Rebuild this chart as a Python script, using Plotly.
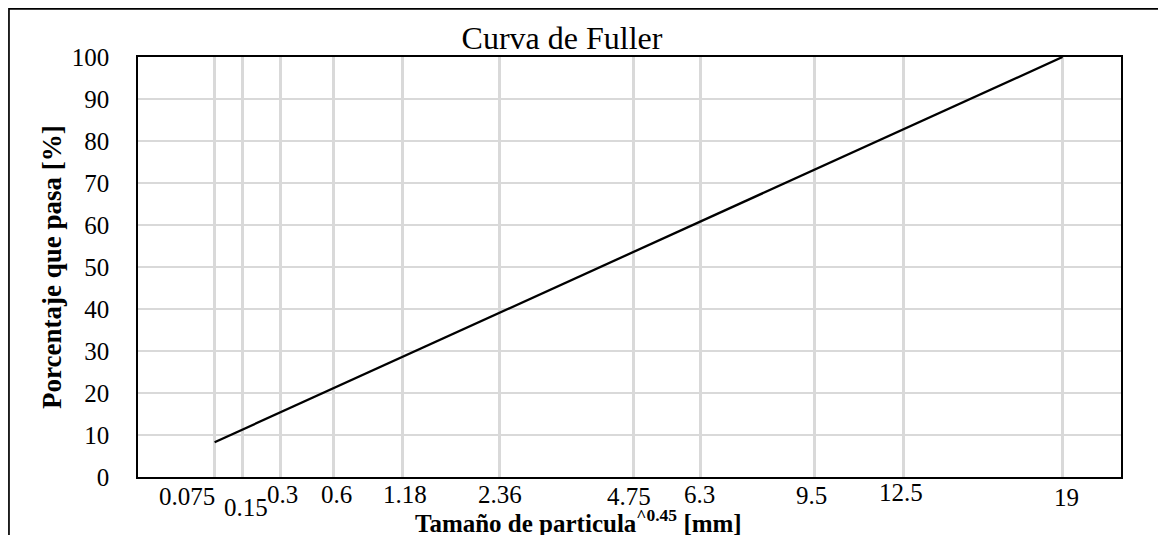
import numpy as np
import plotly.graph_objects as go

# Data
sieve_sizes = [0.075, 0.15, 0.3, 0.6, 1.18, 2.36, 4.75, 6.3, 9.5, 12.5, 19]
sieve_labels = ["0.075", "0.15", "0.3", "0.6", "1.18", "2.36", "4.75", "6.3", "9.5", "12.5", "19"]
percent_passing = [8.28, 11.32, 15.46, 21.12, 28.64, 39.12, 53.59, 60.85, 73.20, 82.83, 100.0]
y_ticks = [0, 10, 20, 30, 40, 50, 60, 70, 80, 90, 100]
exponent = 0.45

x_vals = np.power(np.array(sieve_sizes), exponent)

# label placement tweaks (pixels), style only
label_dx = [-28, 3, 2, 3, 2, 0, -4, -1, -3, -3, 4]
label_dy = [-19, -30, -17, -17, -17, -17, -19, -17, -18, -15, -20]

FONT = "Liberation Serif"
OFF = 8  # page body margin
W, H = 1166 - OFF, 535 - OFF
L, T = 138 - OFF, 57 - OFF
R = W - (1121.5 - OFF)
B = H - (477 - OFF)

pw = W - L - R
ph = H - T - B
def px2x(p):
    return (p - OFF - L) / pw
def py2y(p):
    return (H - B - (p - OFF)) / ph

fig = go.Figure()
fig.add_trace(go.Scatter(
    x=x_vals, y=percent_passing, mode="lines",
    line=dict(color="black", width=2.3), showlegend=False, hoverinfo="skip"))

for xv, lab, dx, dy in zip(x_vals, sieve_labels, label_dx, label_dy):
    fig.add_annotation(x=xv, xref="x", y=0, yref="paper", text=lab,
                       showarrow=False, xanchor="center", yanchor="middle",
                       xshift=dx, yshift=dy,
                       font=dict(family=FONT, size=25, color="black"))

# x-axis title
fig.add_annotation(x=px2x(579), y=py2y(521), xref="paper", yref="paper",
                   text="<b>Tamaño de particula<sup>^0.45</sup> [mm]</b>",
                   showarrow=False, xanchor="center", yanchor="middle",
                   font=dict(family=FONT, size=25, color="black"))
# y-axis title
fig.add_annotation(x=px2x(52), y=py2y(267), xref="paper", yref="paper",
                   text="<b>Porcentaje que pasa [%]</b>", textangle=-90,
                   showarrow=False, xanchor="center", yanchor="middle",
                   font=dict(family=FONT, size=27, color="black"))

# outer chart frame
fig.add_shape(type="rect", xref="paper", yref="paper",
              x0=px2x(8.9), x1=px2x(1180), y0=py2y(550), y1=py2y(8.9),
              line=dict(color="black", width=1.7), layer="below")

fig.update_layout(
    width=W, height=H,
    margin=dict(l=L, r=R, t=T, b=B),
    paper_bgcolor="white", plot_bgcolor="white",
    title=dict(text="Curva de Fuller", x=(562 - OFF) / W, xanchor="center",
               y=1 - (38 - OFF) / H, yanchor="middle",
               font=dict(family=FONT, size=32, color="black")),
    font=dict(family=FONT, color="black"),
)
fig.update_xaxes(range=[0, 4], tickvals=list(x_vals), showticklabels=False,
                 ticks="", showgrid=True, gridcolor="#d9d9d9", gridwidth=3,
                 zeroline=False, showline=True, linecolor="black", linewidth=1.5,
                 mirror=True)
fig.update_yaxes(range=[0, 100], tickvals=y_ticks, showgrid=True,
                 gridcolor="#d9d9d9", gridwidth=1.5, zeroline=False,
                 showline=True, linecolor="black", linewidth=1.5, mirror=True,
                 ticks="", ticklabelstandoff=22,
                 tickfont=dict(family=FONT, size=25, color="black"))

fig.write_html("out.html")
